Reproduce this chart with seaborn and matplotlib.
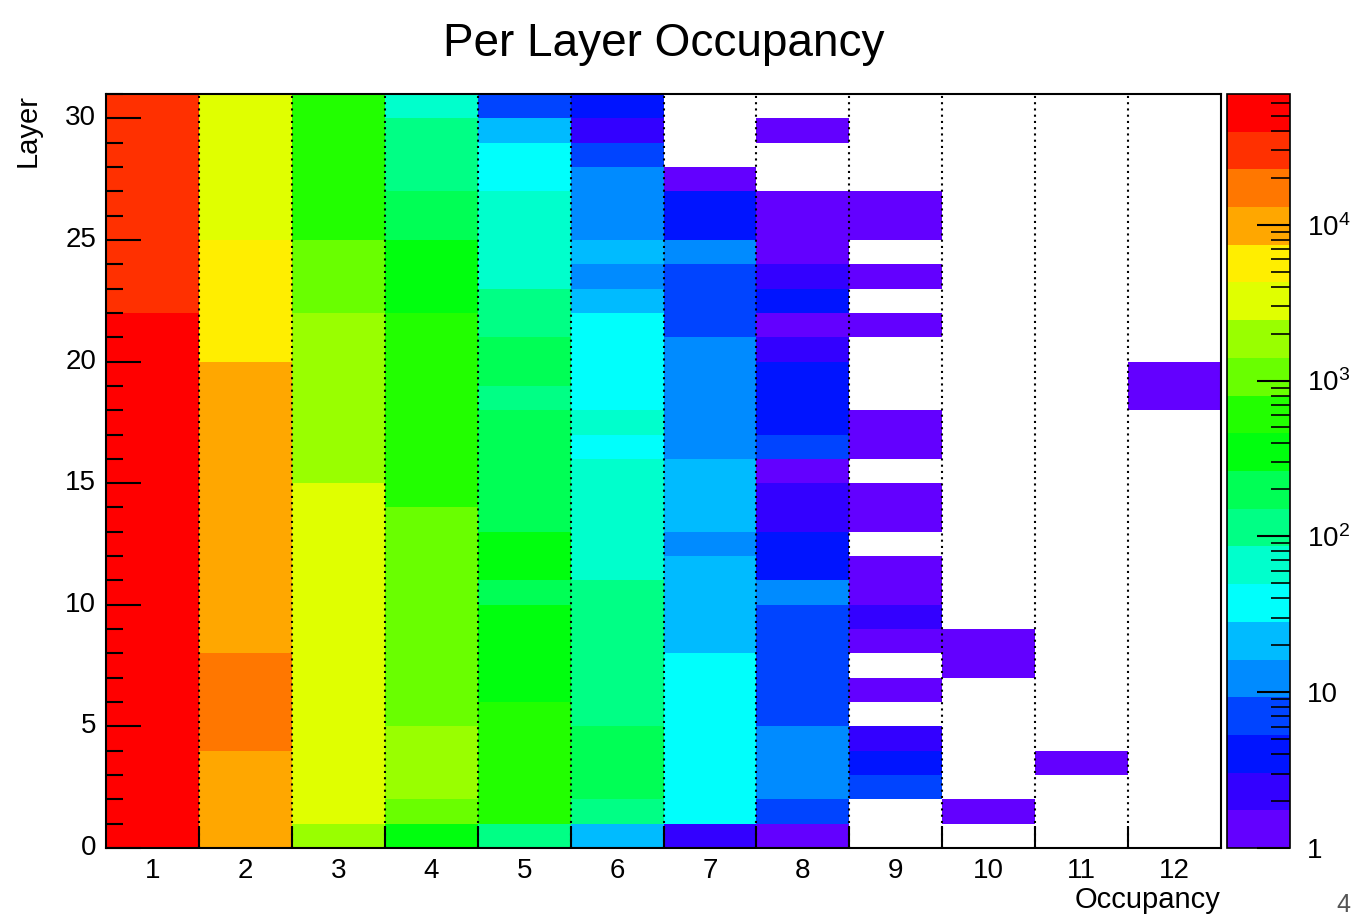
import colorsys
import numpy as np
import pandas as pd
import matplotlib
matplotlib.use("Agg")
import matplotlib.pyplot as plt
from matplotlib.colors import ListedColormap, LogNorm
from matplotlib.ticker import LogLocator, NullFormatter
import seaborn as sns

# ---------------- data (counts per layer, layer 0 .. 30) ----------------
layers = list(range(31))
occupancy_labels = [str(i) for i in range(1, 13)]

occ1 = [51200, 54800, 55900, 56400, 55100, 54300, 53700, 53100, 52600, 52200, 51800,
        51400, 50900, 50500, 50100, 49700, 49200, 48700, 48300, 47800, 46900, 45600,
        36800, 35400, 34200, 33100, 32300, 31500, 30800, 30100, 29400]
occ2 = [9600, 11200, 12100, 12600, 13900, 14600, 14800, 14200, 12400, 12000, 11700,
        11300, 11000, 10700, 10300, 10000, 9700, 9300, 8900, 8400, 7200, 6800,
        6400, 6000, 5600, 4100, 3800, 3600, 3400, 3200, 3000]
occ3 = [1900, 3700, 3900, 3950, 3900, 3800, 3700, 3600, 3500, 3350, 3200,
        3050, 2900, 2750, 2600, 2350, 2200, 2050, 1900, 1750, 1620, 1500,
        1300, 1150, 1000, 780, 720, 660, 610, 560, 510]
occ4 = [420, 1330, 1520, 1560, 1480, 1380, 1340, 1290, 1230, 1170, 1100,
        1030, 960, 880, 790, 740, 690, 640, 600, 560, 520, 480,
        440, 390, 330, 250, 200, 145, 130, 110, 80]
occ5 = [110, 520, 560, 540, 500, 470, 450, 420, 380, 320, 250,
        300, 280, 260, 240, 220, 200, 175, 145, 170, 155, 140,
        120, 85, 75, 65, 55, 45, 35, 22, 8]
occ6 = [20, 140, 190, 175, 160, 145, 135, 125, 115, 105, 92,
        84, 76, 68, 60, 53, 47, 51, 46, 42, 37, 32,
        25, 15, 18, 14, 12, 10, 7, 2, 4]
occ7 = [2, 44, 42, 40, 38, 36, 33, 30, 27, 25, 23,
        20, 15, 22, 20, 18, 15, 14, 13, 12, 11, 9,
        8, 7, 10, 5, 4, 1, 0, 0, 0]
occ8 = [1, 7, 12, 11, 10, 9, 8, 8, 7, 6, 10,
        5, 4, 3, 2, 1, 6, 5, 4, 4, 2, 1,
        4, 2, 1, 1, 1, 0, 0, 1, 0]
occ9 = [0, 0, 6, 4, 2, 0, 1, 0, 1, 2, 1,
        1, 0, 1, 1, 0, 1, 1, 0, 0, 0, 1,
        0, 1, 0, 1, 1, 0, 0, 0, 0]
occ10 = [0, 1, 0, 0, 0, 0, 0, 1, 1, 0, 0,
         0, 0, 0, 0, 0, 0, 0, 0, 0, 0, 0,
         0, 0, 0, 0, 0, 0, 0, 0, 0]
occ11 = [0, 0, 0, 1, 0, 0, 0, 0, 0, 0, 0,
         0, 0, 0, 0, 0, 0, 0, 0, 0, 0, 0,
         0, 0, 0, 0, 0, 0, 0, 0, 0]
occ12 = [0, 0, 0, 0, 0, 0, 0, 0, 0, 0, 0,
         0, 0, 0, 0, 0, 0, 0, 1, 1, 0, 0,
         0, 0, 0, 0, 0, 0, 0, 0, 0]
columns = [occ1, occ2, occ3, occ4, occ5, occ6, occ7, occ8, occ9, occ10, occ11, occ12]

z_min, z_max = 1, 69000
ytick_values = [0, 5, 10, 15, 20, 25, 30]
cbar_ticks = [1, 10, 100, 1000, 10000]
cbar_labels = ["1", "10", "10$^{2}$", "10$^{3}$", "10$^{4}$"]

# ---------------- style ----------------
sns.set_theme(style="white")
plt.rcParams["font.family"] = ["Liberation Sans", "DejaVu Sans"]
plt.rcParams["mathtext.default"] = "regular"
for key in ["text.color", "axes.labelcolor", "xtick.color", "ytick.color",
            "xtick.labelcolor", "ytick.labelcolor"]:
    plt.rcParams[key] = "black"

# ROOT "pretty" palette (violet -> red) sampled for 20 contour levels
n_levels = 20
pal = []
for k in range(n_levels):
    idx = int((k + 0.99) * 50 / n_levels)
    hue = 280 - (idx + 1) * 280 / 50
    pal.append(colorsys.hls_to_rgb(hue / 360.0, 0.5, 1.0))
cmap = ListedColormap(pal)

df = pd.DataFrame({lab: col for lab, col in zip(occupancy_labels, columns)}, index=layers)

W, H = 1355, 918
fig = plt.figure(figsize=(W / 100, H / 100), dpi=100)
ax = fig.add_axes([106 / W, 1 - 848 / H, (1221 - 106) / W, (848 - 94) / H])
cax = fig.add_axes([1227 / W, 1 - 848 / H, (1290 - 1227) / W, (848 - 94) / H])

sns.heatmap(df, ax=ax, cmap=cmap, norm=LogNorm(vmin=z_min, vmax=z_max),
            mask=(df == 0), cbar_ax=cax, linewidths=0)

# ---------------- main axes ----------------
ax.set_xlim(0, 12)
ax.set_ylim(0, 31)
ax.set_facecolor("white")
for s in ax.spines.values():
    s.set_visible(True)
    s.set_linewidth(1.5)
    s.set_color("black")

ax.set_xticks(np.arange(12) + 0.5)
ax.set_xticklabels(occupancy_labels, rotation=0, fontsize=20, color="black")
ax.set_xticks(np.arange(1, 12), minor=True)
ax.tick_params(axis="x", which="major", length=0, pad=7, bottom=True, labelcolor="black")
ax.tick_params(axis="x", which="minor", length=16, width=1.5, direction="in",
               bottom=True, color="black")

ax.set_yticks(ytick_values)
ax.set_yticklabels([str(v) for v in ytick_values], rotation=0, fontsize=20, color="black")
ax.set_yticks(np.arange(0, 32), minor=True)
ax.tick_params(axis="y", which="major", length=25, width=1.5, direction="in",
               left=True, pad=7, color="black", labelcolor="black")
ax.tick_params(axis="y", which="minor", length=12.5, width=1.5, direction="in",
               left=True, color="black")

ax.grid(False)
ax.set_axisbelow(False)
ax.xaxis.grid(True, which="minor", linestyle=(0, (1, 2)), color="black", linewidth=1.5)

ax.set_title("Per Layer Occupancy", fontsize=33, pad=27, color="black")
ax.set_xlabel("Occupancy", loc="right", fontsize=21, labelpad=2, color="black")
ax.set_ylabel("Layer", loc="top", fontsize=21, color="black")
ax.yaxis.set_label_coords(-0.058, 1.0)

# ---------------- colour bar ----------------
cb = ax.collections[0].colorbar
cb.outline.set_visible(True)
cb.outline.set_linewidth(1.2)
cb.outline.set_edgecolor("black")
cax.set_axisbelow(False)
cax.yaxis.set_ticks_position("right")
cax.set_yticks(cbar_ticks)
cax.set_yticklabels(cbar_labels, fontsize=20, color="black")
cax.yaxis.set_minor_locator(LogLocator(base=10, subs=np.arange(2, 10)))
cax.yaxis.set_minor_formatter(NullFormatter())
cax.tick_params(axis="y", which="major", direction="in", length=24, width=1.5,
                pad=12, right=True, left=False, color="black")
cax.tick_params(axis="y", which="minor", direction="in", length=14, width=1.2,
                right=True, left=False, color="black")
for t in cax.yaxis.get_ticklines() + cax.yaxis.get_minorticklines():
    t.set_zorder(5)
cax.yaxis.set_zorder(5)

fig.text(1336 / W, 1 - 893 / H, "4", fontsize=18, color="#555555", ha="left", va="top")

fig.savefig("out.png", dpi=100)
